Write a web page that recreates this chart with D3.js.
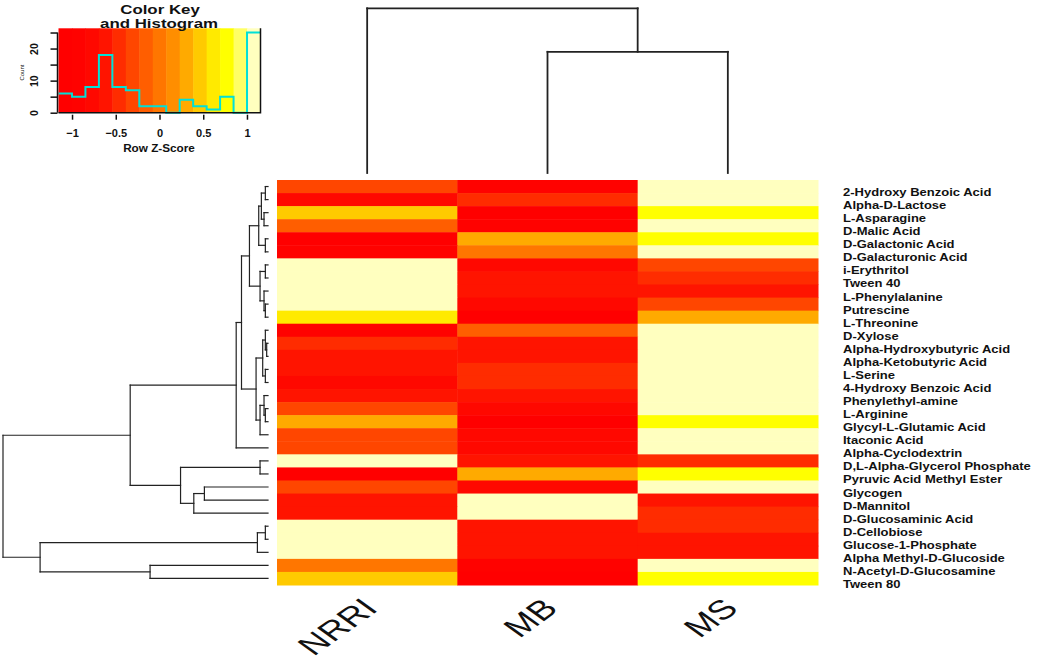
<!DOCTYPE html>
<html>
<head>
<meta charset="utf-8">
<script src="https://cdn.jsdelivr.net/npm/d3@7"></script>
<style>
  body { margin: 0; background: #fff; }
  text { font-family: "Liberation Sans", Arial, sans-serif; fill: #111; }
</style>
</head>
<body>
<div id="container"></div>
<script>
/* CONSTANTS AND GLOBALS */
const width = 1038,
  height = 662;

/* DATA */
const columns = ["NRRI", "MB", "MS"];

const substrates = [
  "2-Hydroxy Benzoic Acid", "Alpha-D-Lactose", "L-Asparagine", "D-Malic Acid",
  "D-Galactonic Acid", "D-Galacturonic Acid", "i-Erythritol", "Tween 40",
  "L-Phenylalanine", "Putrescine", "L-Threonine", "D-Xylose",
  "Alpha-Hydroxybutyric Acid", "Alpha-Ketobutyric Acid", "L-Serine",
  "4-Hydroxy Benzoic Acid", "Phenylethyl-amine", "L-Arginine",
  "Glycyl-L-Glutamic Acid", "Itaconic Acid", "Alpha-Cyclodextrin",
  "D,L-Alpha-Glycerol Phosphate", "Pyruvic Acid Methyl Ester", "Glycogen",
  "D-Mannitol", "D-Glucosaminic Acid", "D-Cellobiose", "Glucose-1-Phosphate",
  "Alpha Methyl-D-Glucoside", "N-Acetyl-D-Glucosamine", "Tween 80"
];

// row z-scores
const nrri = [-0.24, -0.738, 0.40, -0.15, -1.10, -0.99, 1.115, 1.148, 1.154, 1.115,
  0.65, -0.916, -0.47, -0.58, -0.678, -0.738, -0.575, -0.30, 0.30, -0.30,
  -0.30, 1.148, -1.10, -0.30, -0.58, -0.678, 1.148, 1.154, 1.154, -0.04, 0.40];
const mb = [-0.86, -0.40, -1.15, -0.916, 0.30, -0.04, -0.815, -0.678, -0.58, -0.815,
  -1.01, -0.15, -0.678, -0.575, -0.47, -0.40, -0.58, -0.815, -1.10, -0.815,
  -0.815, -0.678, 0.30, -0.815, 1.154, 1.148, -0.678, -0.575, -0.58, -0.99, -1.15];
const ms = [1.10, 1.138, 0.75, 1.066, 0.80, 1.03, -0.30, -0.47, -0.575, -0.30,
  0.36, 1.066, 1.148, 1.154, 1.148, 1.138, 1.154, 1.115, 0.80, 1.115,
  1.115, -0.47, 0.80, 1.115, -0.575, -0.47, -0.47, -0.58, -0.575, 1.03, 0.75];

// 15 colour bins between -zMax and zMax (as they show in the key)
const heatColors = ["#FF0000", "#FF0200", "#FF0800", "#FF1400", "#FF2C00", "#FF4600",
  "#FF5E00", "#FF7600", "#FF8E00", "#FFAA00", "#FFCA00", "#FFEA00", "#FFFF00",
  "#FFFF66", "#FFFFBF"];
const zMax = 1.1547;

const keyTicks = [-1, -0.5, 0, 0.5, 1];
const countTicks = [0, 5, 10, 15, 20, 25];
const countLabels = [0, 10, 20];

// dendrograms: [left, right, height], leaves are indexes
const colTree = [0, [1, 2, 73.6], 100];

const rowTree = [
  [
    [
      [
        [
          [[[0, 1, 0.1], [2, 3, 0.15], 0.25], [4, 5, 0.1], 0.35],
          [[6, 7, 0.1], [8, [9, 10, 0.1], 0.15], 0.3],
          0.7
        ],
        [
          [[11, [12, 13, 0.05], 0.1], [14, 15, 0.1], 0.2],
          [[16, [17, 18, 0.1], 0.15], 19, 0.3],
          0.45
        ],
        1.0
      ],
      20, 1.2
    ],
    [[21, 22, 0.3], [[23, 24, 2.4], 25, 2.8], 3.3],
    5.2
  ],
  [[[26, 27, 0.1], 28, 0.4], [29, 30, 4.45], 8.6],
  10
];

/* SCALES */
const xHeat = d3.scaleBand().domain(columns).range([277, 818]);
const yHeat = d3.scaleBand().domain(d3.range(substrates.length)).range([180, 585]);

const color = d3.scaleQuantize().domain([-zMax, zMax]).range(heatColors);
const binOf = d3.scaleQuantize().domain([-zMax, zMax]).range(d3.range(heatColors.length));

const xKey = d3.scaleLinear().domain([-zMax, zMax]).range([58.5, 260.5]);
const yKey = d3.scaleLinear().domain([0, 25 / 0.95]).range([112.7, 28.3]);

const xRowDend = d3.scaleLinear().domain([0, 10]).range([268, 3]);
const yColDend = d3.scaleLinear().domain([0, 100]).range([173, 8.3]);

const cells = [];
substrates.forEach((s, i) => {
  [nrri, mb, ms].forEach((arr, j) => cells.push({ row: i, col: columns[j], z: arr[i] }));
});

const counts = heatColors.map((c, k) => cells.filter(d => binOf(d.z) === k).length);
const breaks = d3.range(heatColors.length + 1).map(k => -zMax + k * 2 * zMax / heatColors.length);

/* SVG */
const svg = d3.select("#container")
  .append("svg")
  .attr("width", width)
  .attr("height", height);

// the figure is stretched sideways, so text gets a horizontal stretch too
function stretchedText(g, x, y, sx, txt) {
  return g.append("text")
    .attr("transform", `translate(${x},${y}) scale(${sx},1)`)
    .text(txt);
}

/* HEATMAP */
svg.append("g")
  .selectAll("rect")
  .data(cells)
  .join("rect")
  .attr("x", d => xHeat(d.col))
  .attr("y", d => yHeat(d.row))
  .attr("width", xHeat.bandwidth() + 0.5)
  .attr("height", yHeat.bandwidth() + 0.5)
  .attr("fill", d => color(d.z));

// row labels
const rowLab = svg.append("g");
substrates.forEach((s, i) => {
  stretchedText(rowLab, 843, yHeat(i) + yHeat.bandwidth() / 2 + 9.5, 1.24, s)
    .attr("font-size", 10.5)
    .attr("font-weight", "bold");
});

// column labels, at 45 degrees
const colLab = svg.append("g");
columns.forEach(c => {
  colLab.append("text")
    .attr("transform", `translate(${xHeat(c) + xHeat.bandwidth() / 2 + 12},${610}) scale(1.4,1) rotate(-45)`)
    .attr("text-anchor", "end")
    .attr("font-size", 27)
    .text(c);
});

/* DENDROGRAMS */
const dendLines = [];

function walkRows(node) {
  if (typeof node === "number") return { pos: yHeat(node) + yHeat.bandwidth() / 2, h: 0 };
  const a = walkRows(node[0]), b = walkRows(node[1]), h = node[2];
  dendLines.push({ x1: xRowDend(h), y1: a.pos, x2: xRowDend(h), y2: b.pos, w: 1.2 });
  dendLines.push({ x1: xRowDend(a.h), y1: a.pos, x2: xRowDend(h), y2: a.pos, w: 1.2 });
  dendLines.push({ x1: xRowDend(b.h), y1: b.pos, x2: xRowDend(h), y2: b.pos, w: 1.2 });
  return { pos: (a.pos + b.pos) / 2, h: h };
}

function walkCols(node) {
  if (typeof node === "number") {
    const c = columns[node];
    return { pos: xHeat(c) + xHeat.bandwidth() / 2, h: 0 };
  }
  const a = walkCols(node[0]), b = walkCols(node[1]), h = node[2];
  dendLines.push({ x1: a.pos, y1: yColDend(h), x2: b.pos, y2: yColDend(h), w: 1.8 });
  dendLines.push({ x1: a.pos, y1: yColDend(a.h), x2: a.pos, y2: yColDend(h), w: 1.8 });
  dendLines.push({ x1: b.pos, y1: yColDend(b.h), x2: b.pos, y2: yColDend(h), w: 1.8 });
  return { pos: (a.pos + b.pos) / 2, h: h };
}

walkRows(rowTree);
walkCols(colTree);

svg.append("g")
  .selectAll("line")
  .data(dendLines)
  .join("line")
  .attr("x1", d => d.x1).attr("y1", d => d.y1)
  .attr("x2", d => d.x2).attr("y2", d => d.y2)
  .attr("stroke", "#222")
  .attr("stroke-width", d => d.w)
  .attr("stroke-linecap", "square");

/* COLOR KEY */
const key = svg.append("g");

key.selectAll("rect")
  .data(heatColors)
  .join("rect")
  .attr("x", (c, k) => xKey(breaks[k]))
  .attr("y", yKey(25 / 0.95))
  .attr("width", (c, k) => xKey(breaks[k + 1]) - xKey(breaks[k]) + 0.5)
  .attr("height", yKey(0) - yKey(25 / 0.95))
  .attr("fill", c => c);

// histogram as a step line
const steps = [];
counts.forEach((n, k) => {
  steps.push([xKey(breaks[k]), yKey(n)]);
  steps.push([xKey(breaks[k + 1]), yKey(n)]);
});
key.append("path")
  .attr("d", d3.line()(steps))
  .attr("fill", "none")
  .attr("stroke", "#00E0D8")
  .attr("stroke-width", 2);

// frame on right and bottom
key.append("path")
  .attr("d", `M${xKey(-zMax)},${yKey(0)}H${xKey(zMax)}V${yKey(25 / 0.95)}`)
  .attr("fill", "none")
  .attr("stroke", "#111")
  .attr("stroke-width", 1.5);

const xAxis = d3.axisBottom(xKey)
  .tickValues(keyTicks)
  .tickSize(5)
  .tickFormat(d => d === 0 ? "0" : d3.format("")(d));
const xAxisGroup = key.append("g")
  .attr("transform", `translate(0,${yKey(0) + 2})`)
  .call(xAxis);
xAxisGroup.select(".domain").remove();
xAxisGroup.selectAll(".tick line").attr("stroke", "#111").attr("stroke-width", 1.5);
xAxisGroup.selectAll(".tick text")
  .attr("font-size", 11)
  .attr("font-weight", "bold")
  .attr("font-family", "Liberation Sans, Arial, sans-serif")
  .attr("fill", "#111")
  .attr("dy", "1.3em");

const yAxis = d3.axisLeft(yKey)
  .tickValues(countTicks)
  .tickSize(7)
  .tickFormat(d => countLabels.includes(d) ? d : "");
const yAxisGroup = key.append("g")
  .attr("transform", `translate(${xKey(-zMax) - 1},0)`)
  .call(yAxis);
yAxisGroup.select(".domain")
  .attr("d", `M0,${yKey(0)}V${yKey(25)}`)
  .attr("stroke", "#111").attr("stroke-width", 1.5);
yAxisGroup.selectAll(".tick line").attr("stroke", "#111").attr("stroke-width", 1.5);
yAxisGroup.selectAll(".tick text")
  .attr("font-size", 10.5)
  .attr("font-weight", "bold")
  .attr("font-family", "Liberation Sans, Arial, sans-serif")
  .attr("fill", "#111")
  .attr("text-anchor", "middle")
  .attr("transform", "rotate(-90)")
  .attr("x", 0)
  .attr("dy", 0)
  .attr("y", -20);

key.append("text")
  .attr("transform", `translate(24,${yKey(12.5)}) rotate(-90)`)
  .attr("text-anchor", "middle")
  .attr("font-size", 6)
  .text("Count");

stretchedText(key, 160, 14, 1.35, "Color Key")
  .attr("text-anchor", "middle")
  .attr("font-size", 12.5)
  .attr("font-weight", "bold");
stretchedText(key, 159, 28, 1.35, "and Histogram")
  .attr("text-anchor", "middle")
  .attr("font-size", 12.5)
  .attr("font-weight", "bold");
stretchedText(key, 159, 152, 1.12, "Row Z-Score")
  .attr("text-anchor", "middle")
  .attr("font-size", 10.5)
  .attr("font-weight", "bold");
</script>
</body>
</html>
